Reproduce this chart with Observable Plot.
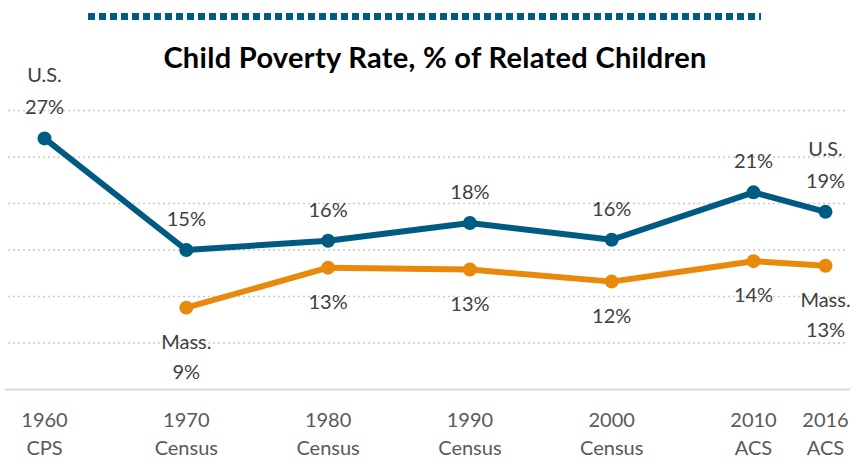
<!DOCTYPE html>
<html>
<head>
<meta charset="utf-8">
<script src="https://cdn.jsdelivr.net/npm/d3@7"></script>
<script src="https://cdn.jsdelivr.net/npm/@observablehq/plot@0.6"></script>
<style>
  html, body { margin: 0; padding: 0; background: #fff; }
  #wrap { position: relative; width: 856px; height: 469px; overflow: hidden; }
  #bar { position: absolute; left: 88px; top: 13px; width: 673px; height: 7px;
         background: repeating-linear-gradient(to right, #005b82 0 7px, transparent 7px 11px); }
  #title { position: absolute; left: 0; width: 870px; top: 42px; text-align: center; line-height: 30px;
           font-family: Lato, sans-serif; font-weight: bold; font-size: 29px; letter-spacing: 0.3px; color: #000; }
  #chart { position: absolute; left: 0; top: 0; }
</style>
</head>
<body>
<div id="wrap">
  <div id="chart"></div>
  <div id="bar"></div>
  <div id="title">Child Poverty Rate, % of Related Children</div>
</div>
<script>
const years = [1960, 1970, 1980, 1990, 2000, 2010, 2016];
const sources = ["CPS", "Census", "Census", "Census", "Census", "ACS", "ACS"];
const usRate = [27.0, 15.0, 16.0, 17.9, 16.1, 21.2, 19.1];
const usLabels = ["U.S.\n27%", "15%", "16%", "18%", "16%", "21%", "U.S.\n19%"];
const massYears = [1970, 1980, 1990, 2000, 2010, 2016];
const massRate = [8.8, 13.1, 12.9, 11.6, 13.8, 13.3];
const massLabels = ["Mass.\n9%", "13%", "13%", "12%", "14%", "Mass.\n13%"];
const gridTicks = [5, 10, 15, 20, 25, 30];

const us = years.map((y, i) => ({year: y, rate: usRate[i], label: usLabels[i]}));
const mass = massYears.map((y, i) => ({year: y, rate: massRate[i], label: massLabels[i]}));
const ticks = years.map((y, i) => ({year: y, label: `${y}\n${sources[i]}`}));

const blue = "#005b82", orange = "#e8890c";

const chart = Plot.plot({
  width: 856,
  height: 469,
  marginTop: 110,
  marginBottom: 80,
  marginLeft: 8,
  marginRight: 8,
  style: {fontFamily: "Lato, sans-serif", background: "transparent"},
  x: {type: "linear", domain: [1960, 2010, 2016], range: [44, 753, 825], axis: null},
  y: {domain: [0, 30], axis: null},
  marks: [
    Plot.ruleY(gridTicks, {stroke: "#c9c9c9", strokeWidth: 1.5, strokeDasharray: "2,3"}),
    Plot.ruleY([0], {stroke: "#d9d9d9", strokeWidth: 2, insetLeft: -3, insetRight: -2}),
    Plot.line(us, {x: "year", y: "rate", stroke: blue, strokeWidth: 6}),
    Plot.dot(us, {x: "year", y: "rate", r: 7, fill: blue}),
    Plot.line(mass, {x: "year", y: "rate", stroke: orange, strokeWidth: 6}),
    Plot.dot(mass, {x: "year", y: "rate", r: 7, fill: orange}),
    Plot.text(us, {x: "year", y: "rate", text: "label", lineAnchor: "bottom", dy: -24,
                   fontSize: 20, fill: "#404040", lineHeight: 1.6}),
    Plot.text(mass, {x: "year", y: "rate", text: "label", lineAnchor: "top", dy: 20,
                     fontSize: 20, fill: "#404040", lineHeight: 1.5}),
    Plot.text(ticks, {x: "year", y: 0, text: "label", lineAnchor: "top", dy: 18,
                      fontSize: 20, fill: "#595959", lineHeight: 1.4})
  ]
});
document.getElementById("chart").appendChild(chart);
</script>
</body>
</html>
